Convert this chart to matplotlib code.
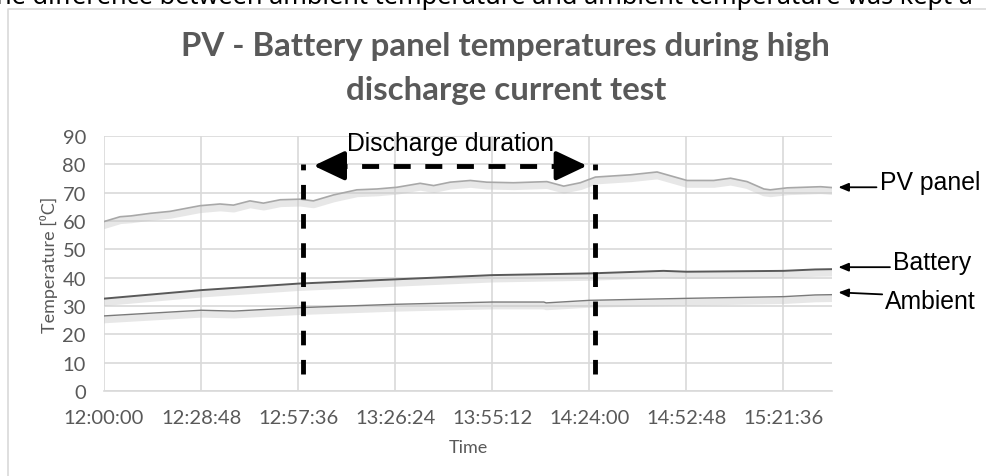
import matplotlib.pyplot as plt
import matplotlib.patheffects as pe
from matplotlib.lines import Line2D

# Data (minutes after 12:00:00, temperatures in degC)
pv_time = [0, 4.75, 8, 13.7, 19.6, 28.5, 34.4, 38.4, 43.3, 47.3, 52.3, 58.2, 62.1,
           68.1, 75, 81, 86.9, 93.8, 97.8, 102.7, 108.7, 113.6, 121.5, 131.4,
           136.4, 141.3, 145.8, 156.2, 164.1, 173, 180.9, 185.9, 190.8, 195.8,
           197.7, 202.7, 212.6, 216]
pv_temp = [59.8, 61.5, 61.8, 62.7, 63.4, 65.4, 66.0, 65.6, 67.1, 66.3, 67.5, 67.7, 67.1,
           69.2, 71.0, 71.3, 71.9, 73.3, 72.5, 73.7, 74.3, 73.7, 73.5, 73.9,
           72.3, 73.5, 75.5, 76.3, 77.3, 74.3, 74.3, 75.1, 73.9, 71.3,
           71.0, 71.7, 72.1, 71.8]

bat_time = [0, 28.8, 57.6, 86.4, 115.2, 144, 166, 172.8, 201.6, 211, 216]
bat_temp = [32.6, 35.6, 37.9, 39.4, 40.9, 41.5, 42.4, 42.1, 42.4, 42.9, 43.0]

amb_time = [0, 28.8, 38.5, 57.6, 86.4, 115.2, 130.5, 131.2, 144, 172.8, 201.6, 211, 216]
amb_temp = [26.5, 28.5, 28.2, 29.4, 30.6, 31.4, 31.4, 31.1, 32.0, 32.7, 33.3, 33.9, 34.0]

x_ticks = [0, 28.8, 57.6, 86.4, 115.2, 144, 172.8, 201.6]
x_tick_labels = ["12:00:00", "12:28:48", "12:57:36", "13:26:24",
                 "13:55:12", "14:24:00", "14:52:48", "15:21:36"]
y_ticks = [0, 10, 20, 30, 40, 50, 60, 70, 80, 90]

discharge_start = 59.0
discharge_end = 145.8

fig = plt.figure(figsize=(9.86, 4.77), dpi=100)
ax = fig.add_axes([0.1055, 0.1782, 0.7383, 0.5346])

shadow = [pe.SimpleLineShadow(offset=(0.3, -2.8), shadow_color='#c4c4c4', alpha=0.4, linewidth=5),
          pe.Normal()]
ax.plot(pv_time, pv_temp, color='#a8a8a8', lw=1.2, path_effects=shadow, zorder=3)
ax.plot(bat_time, bat_temp, color='#595959', lw=1.4, path_effects=shadow, zorder=3)
ax.plot(amb_time, amb_temp, color='#7a7a7a', lw=1.0, path_effects=shadow, zorder=3)

ax.set_xlim(0, 216)
ax.set_ylim(0, 90)
ax.set_xticks(x_ticks)
ax.set_xticklabels(x_tick_labels)
ax.set_yticks(y_ticks)
ax.grid(True, color='#d9d9d9', lw=1.2)
ax.set_axisbelow(True)
for s in ['top', 'right', 'left']:
    ax.spines[s].set_visible(False)
ax.spines['bottom'].set_color('#d9d9d9')
ax.spines['bottom'].set_linewidth(1.2)
ax.tick_params(length=0, labelsize=14.5, labelcolor='#595959', pad=13)
ax.tick_params(axis='y', pad=13)
for lab in ax.get_xticklabels() + ax.get_yticklabels():
    lab.set_family('Lato')

ax.set_xlabel("Time", family='Lato', fontsize=13, color='#595959', labelpad=9)
ax.set_ylabel("Temperature [⁰C]", family=['Lato', 'DejaVu Sans'], fontsize=13,
              color='#595959', labelpad=3)

# discharge markers
for xv in [discharge_start, discharge_end]:
    ax.plot([xv, xv], [6, 80], color='black', lw=3.5, linestyle=(0, (3, 3)),
            dash_capstyle='butt', zorder=5)
ax.plot([discharge_start + 8, discharge_end - 8], [79.5, 79.5], color='black', lw=3.5,
        linestyle=(0, (3.5, 3)), dash_capstyle='butt', zorder=5)
for tip, tail in [(discharge_start + 3.2, discharge_start + 12.0),
                  (discharge_end - 2.5, discharge_end - 11.3)]:
    ax.annotate('', xy=(tip, 79.5), xytext=(tail, 79.5),
                arrowprops=dict(arrowstyle='-|>,head_length=1.9,head_width=0.9',
                                color='black', lw=3.0, shrinkA=0, shrinkB=0),
                zorder=6)
ax.text((discharge_start + discharge_end) / 2 + 0.5, 87.6, "Discharge duration",
        family='Liberation Sans', fontsize=17.8, ha='center', va='center')

# series labels on the right: (name, arrow y, text y, text x, arrow tail x)
labels = [("PV panel", 71.9, 73.8, 230.2, 229.2),
          ("Battery", 43.7, 45.5, 234.0, 233.2),
          ("Ambient", 34.8, 31.9, 231.8, 230.9)]
for name, ya, yt, xt, tail in labels:
    ax.annotate('', xy=(217.9, ya), xytext=(tail, ya - (0.7 if name == "Ambient" else 0)),
                arrowprops=dict(arrowstyle='-|>,head_length=0.6,head_width=0.25',
                                color='black', lw=1.3, shrinkA=0, shrinkB=0),
                annotation_clip=False)
    ax.text(xt, yt, name, family='Liberation Sans', fontsize=17.8,
            ha='left', va='center', clip_on=False)

# title
fig.text(0.513, 0.856, "PV - Battery panel temperatures during high\ndischarge current test",
         family='Lato', fontweight='bold', fontsize=23.8, color='#595959',
         ha='center', va='center', linespacing=1.6)

# chart frame and the cut-off text line above it
fig.add_artist(Line2D([8 / 986, 8 / 986, 1], [0, 1 - 9.5 / 477, 1 - 9.5 / 477],
                      transform=fig.transFigure, color='#d9d9d9', lw=1.2))
fig.text(-0.004, 1 - 4.5 / 477, "he difference between ambient temperature and ambient temperature was kept a",
         family='Noto Sans', fontsize=18.2, color='black', ha='left', va='baseline')

fig.savefig("out.png", dpi=100)
